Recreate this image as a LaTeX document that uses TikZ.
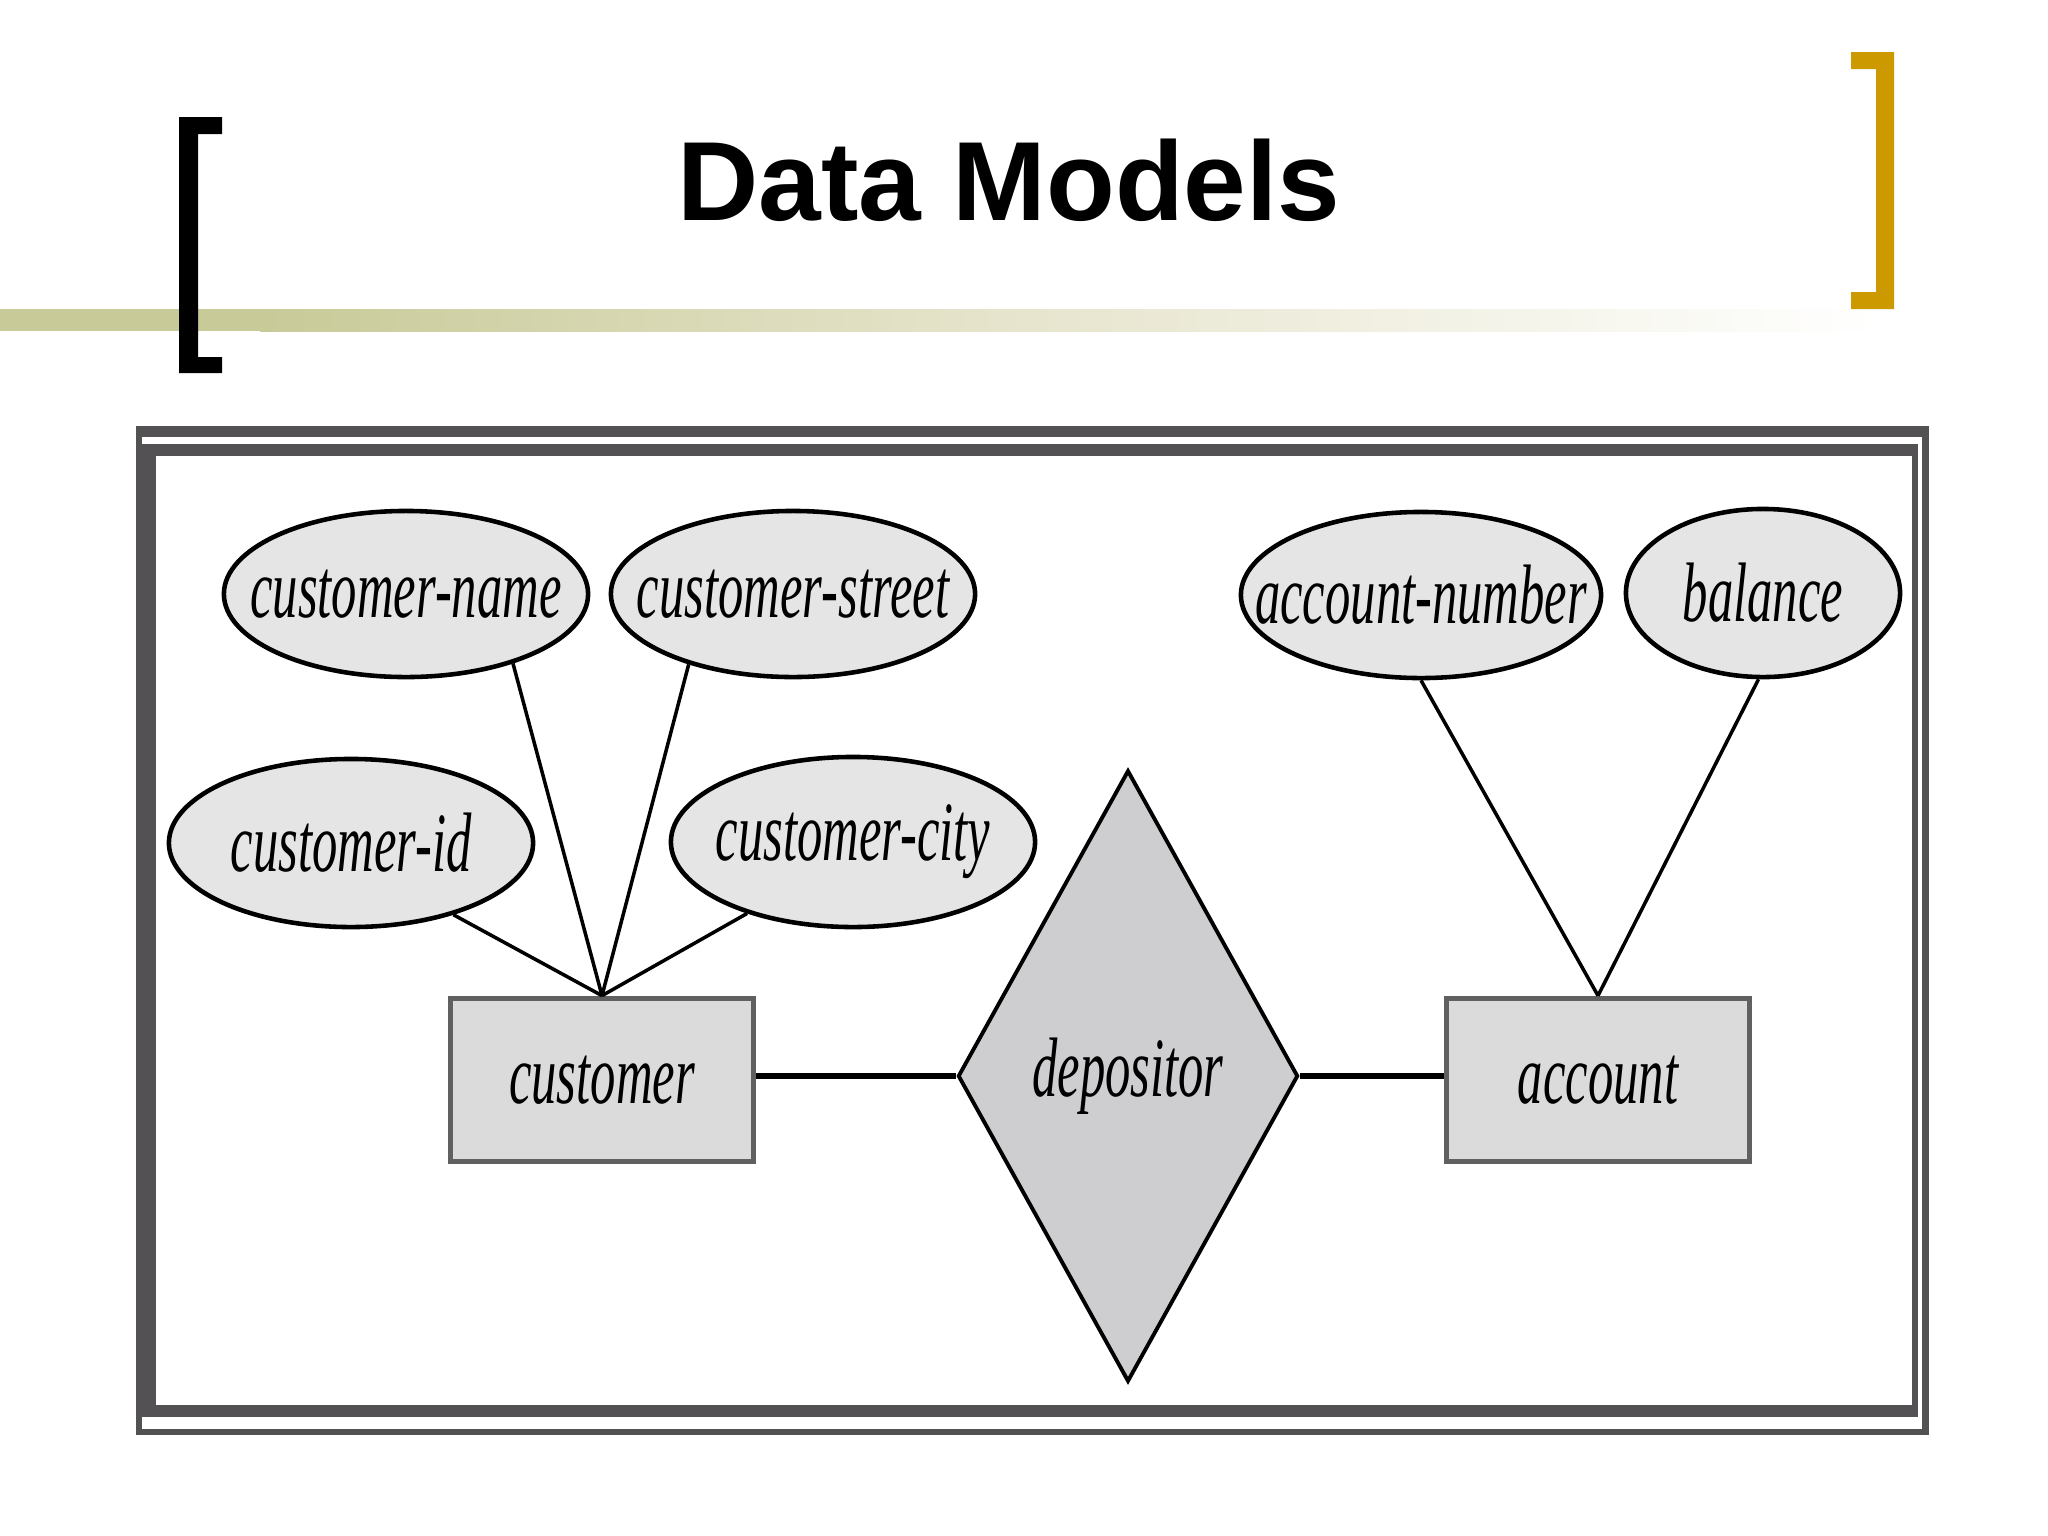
\documentclass[tikz,border=0pt]{standalone}
\usepackage{xcolor}
\usepackage{fontspec}
\usepackage{tikz}
\usetikzlibrary{shapes.geometric, positioning, calc}

\newfontfamily\titlefont{Liberation Sans}
\newfontfamily\erfont[FakeStretch=0.6]{Liberation Serif Italic}

\definecolor{frameGray}{RGB}{83,81,84}
\definecolor{barOlive}{RGB}{200,202,152}
\definecolor{barPale}{RGB}{230,228,204}
\definecolor{bracketGold}{RGB}{204,153,0}
\definecolor{attrFill}{RGB}{229,229,229}
\definecolor{entFill}{RGB}{219,219,219}
\definecolor{relFill}{RGB}{206,206,209}

\begin{document}
\begin{tikzpicture}[x=0.01cm, y=-0.01cm,
            every node/.style={font=\erfont\fontsize{24}{28}\selectfont, inner sep=0pt},
            attr/.style={draw, ellipse, line width=1.3pt, fill=attrFill, inner xsep=-1.7cm,
                         minimum width=3.64cm, minimum height=1.66cm},
            entity/.style={draw=gray!75!black, line width=1.6pt, fill=entFill,
                           minimum width=3.03cm, minimum height=1.63cm},
            relation/.style={draw, diamond, line width=1.1pt, fill=relFill,
                             minimum width=3.4cm, minimum height=6.11cm},
            link/.style={line width=1pt},
            tie/.style={line width=1.6pt}]
            \useasboundingbox (0,0) rectangle (2048,1536);

            % title bar
            \fill[barOlive] (0,309) rectangle (262,331);
            \shade[left color=barOlive, right color=barPale] (260,309) rectangle (1000,331);
            \shade[left color=barPale, right color=white] (998,309) rectangle (1880,331);
            \fill (179,117) -- (222,117) -- (222,134) -- (198,134) -- (198,357)
                -- (222,357) -- (222,373) -- (179,373) -- cycle;
            \fill[bracketGold] (1894,52) -- (1851,52) -- (1851,69) -- (1876,69) -- (1876,292)
                -- (1851,292) -- (1851,309) -- (1894,309) -- cycle;
            \node[font=\titlefont\bfseries\fontsize{32}{38}\selectfont, anchor=base] (title) at (1009,220) {Data Models};

            % frame
            \fill[frameGray] (136,426) rectangle (1929,1435);
            \fill[white] (142,437) rectangle (1922,1429);
            \fill[frameGray] (142,444) rectangle (1918,1417);
            \fill[white] (156,456) rectangle (1912,1405);

            % customer side
            \node[attr] (cname) at (406,594) {customer-name};
            \node[attr] (cstreet) at (793,594) {customer-street};
            \node[attr, minimum height=1.68cm] (cid) at (351,843) {customer-id};
            \node[attr, minimum height=1.7cm] (ccity) at (853,842) {customer-city};
            \node[entity] (customer) at (602,1080) {customer};

            % relationship
            \node[relation] (depositor) at (1128,1076) {depositor};

            % account side
            \node[attr, minimum width=3.6cm] (accnum) at (1421,595) {account-number};
            \node[attr, minimum width=2.74cm, minimum height=1.68cm] (balance) at (1763,593) {balance};
            \node[entity] (account) at (1598,1080) {account};

            % lines
            \draw[link] (cname.-33) -- (customer.north);
            \draw[link] (cstreet.-146) -- (customer.north);
            \draw[link] (cid.-35) -- (customer.north);
            \draw[link] (ccity.-146) -- (customer.north);
            \draw[link] (accnum.south) -- (account.north);
            \draw[link] (balance.-93) -- (account.north);
            \draw[tie] (depositor.west -| customer.east) -- (depositor.west);
            \draw[tie] (depositor.east) -- (depositor.east -| account.west);
        \end{tikzpicture}
\end{document}
